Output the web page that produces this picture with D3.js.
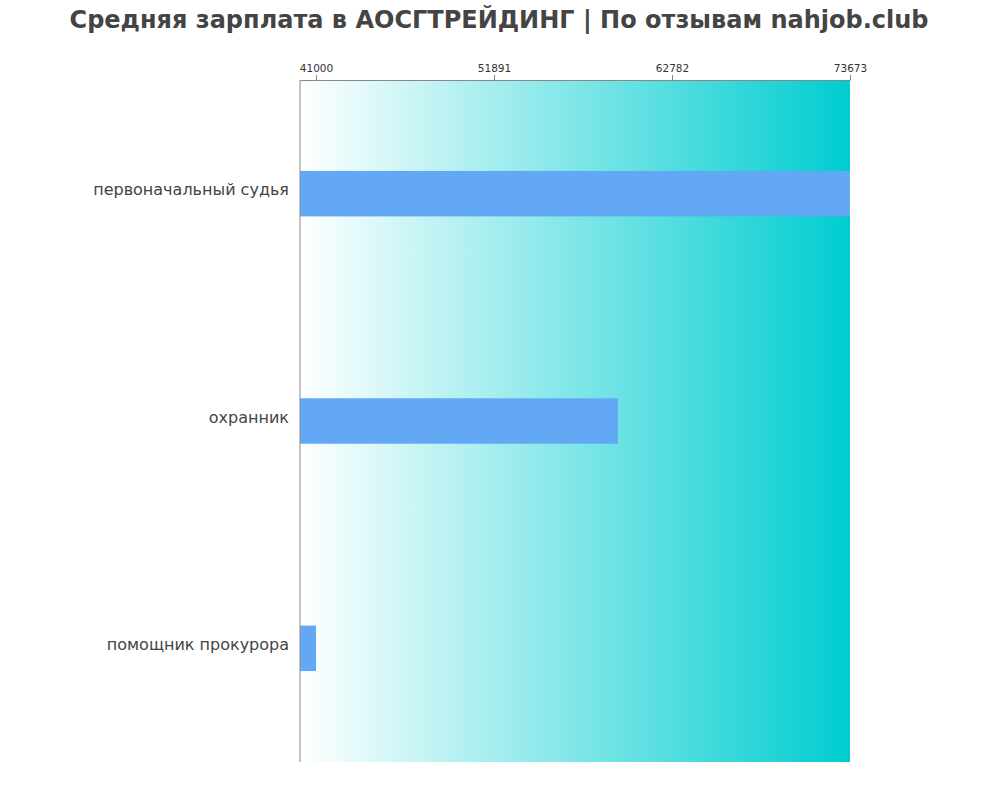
<!DOCTYPE html>
<html>
<head>
<meta charset="utf-8">
<script src="https://cdn.jsdelivr.net/npm/d3@7"></script>
<style>
  body { margin: 0; background: #fff; }
  svg { display: block; }
</style>
</head>
<body>
<svg id="chart" width="1000" height="800"></svg>
<script>
const titleText = "Средняя зарплата в АОСГТРЕЙДИНГ | По отзывам nahjob.club";
const categories = ["первоначальный судья", "охранник", "помощник прокурора"];
const salaries = [73673, 59480, 41000];
const tickValues = [41000, 51891, 62782, 73673];
const domainMin = 40020;
const domainMax = 73673;

const svg = d3.select("#chart");
const margin = { top: 80, right: 150, bottom: 38, left: 300 };
const W = 1000, H = 800;
const innerW = W - margin.left - margin.right;
const innerH = H - margin.top - margin.bottom;

svg.append("text")
  .attr("x", 499).attr("y", 28)
  .attr("text-anchor", "middle")
  .attr("font-family", "DejaVu Sans, sans-serif")
  .attr("font-weight", "bold")
  .attr("font-size", 24)
  .attr("fill", "#444")
  .text(titleText);

const defs = svg.append("defs");
const grad = defs.append("linearGradient").attr("id", "bg")
  .attr("x1", "0%").attr("x2", "100%").attr("y1", "0%").attr("y2", "0%");
grad.append("stop").attr("offset", "0%").attr("stop-color", "#ffffff");
grad.append("stop").attr("offset", "100%").attr("stop-color", "#00cdd0");

const g = svg.append("g").attr("transform", `translate(${margin.left},${margin.top})`);

const x = d3.scaleLinear().domain([domainMin, domainMax]).range([0, innerW]);
const y = d3.scaleBand().domain(categories).range([0, innerH]).paddingInner(0.8).paddingOuter(0.4);

g.append("rect").attr("x", 0).attr("y", 0).attr("width", innerW).attr("height", innerH)
  .attr("fill", "url(#bg)");

g.selectAll("rect.bar").data(categories).enter().append("rect")
  .attr("class", "bar")
  .attr("x", 0)
  .attr("y", d => y(d))
  .attr("width", (d, i) => x(salaries[i]) - x(domainMin))
  .attr("height", y.bandwidth())
  .attr("fill", "#63a8f5");

const xAxis = d3.axisTop(x).tickValues(tickValues).tickFormat(d => String(d)).tickSize(5).tickSizeOuter(0);
const ax = g.append("g").call(xAxis);
ax.select(".domain").attr("stroke", "#888");
ax.selectAll(".tick line").attr("stroke", "#888");
ax.selectAll(".tick text").attr("font-family", "DejaVu Sans, sans-serif").attr("font-size", 10.5).attr("fill", "#333").attr("dy", "0");

g.append("line").attr("x1", 0).attr("x2", 0).attr("y1", 0).attr("y2", innerH)
  .attr("stroke", "#888").attr("stroke-width", 1);

g.selectAll("text.cat").data(categories).enter().append("text")
  .attr("class", "cat")
  .attr("x", -11)
  .attr("y", d => y(d) + y.bandwidth() / 2)
  .attr("dy", "0.1em")
  .attr("text-anchor", "end")
  .attr("font-family", "DejaVu Sans, sans-serif")
  .attr("font-size", 16)
  .attr("fill", "#444")
  .text(d => d);
</script>
</body>
</html>
